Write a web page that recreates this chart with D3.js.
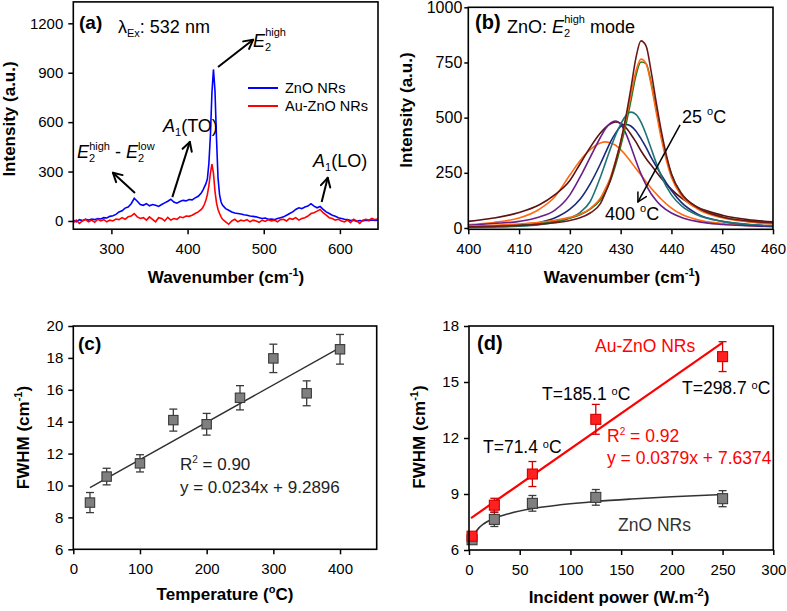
<!DOCTYPE html>
<html><head><meta charset="utf-8">
<script src="https://cdn.jsdelivr.net/npm/d3@7"></script>
<style>
body{margin:0;background:#fff;}
svg{display:block;font-family:"Liberation Sans",Arial,sans-serif;}
</style></head><body>
<script>
// ---------- Panel (a) data ----------
const wavenumber = [250,254,258,262,266,270,274,278,282,286,290,294,298,302,306,310,314,318,322,326,330,334,338,342,346,350,354,358,362,366,370,374,378,382,386,390,394,398,402,406,410,414,418,
420,422,424,426,428,430,432,434,436,438,440,442,444,
446,450,454,458,462,466,470,474,478,482,486,490,494,498,502,506,510,514,518,522,526,530,534,538,542,546,550,554,558,562,566,570,574,578,582,586,590,594,598,602,606,610,614,618,622,626,630,634,638,642,646,650];
const znoIntensity = [5,-5,8,2,10,5,12,8,15,12,20,18,28,32,40,55,62,78,85,105,138,120,100,95,105,92,100,95,88,100,110,120,132,115,108,118,125,122,130,128,140,150,170,
185,205,225,255,350,520,780,920,790,500,260,160,115,
95,75,65,55,48,45,42,38,35,30,28,25,20,15,18,10,12,8,15,20,25,35,45,55,70,80,75,85,90,105,90,80,88,70,55,45,35,28,20,15,10,8,3,5,-2,3,0,5,2,6,3,5];
const auZnoIntensity = [-10,5,-15,0,10,-5,5,-8,10,0,8,-5,5,0,12,8,20,10,25,30,45,25,15,20,5,25,10,-5,20,15,0,22,5,15,10,25,20,30,28,35,45,55,70,
82,100,125,160,215,290,345,290,180,110,70,45,25,
10,-5,-20,0,10,-5,5,0,8,-5,5,0,-8,5,-3,8,0,5,-5,8,10,0,15,10,20,5,15,20,30,45,50,60,70,50,35,20,15,5,10,0,-5,5,-10,10,0,-15,5,10,5,15,8,12];
const aXTicks = [300,400,500,600];
const aYTicks = [0,300,600,900,1200];
const aSeriesNames = ["ZnO NRs","Au-ZnO NRs"];

// ---------- Panel (b) data ----------
const e2Wavenumber = [400,405,410,414,417,420,422,424,426,427,428,429,430,431,432,433,434,435,436,437,438,440,442,445,450,455,460];
const e2CurveA = [5,8,12,17,24,34,46,68,110,160,220,300,390,500,630,770,848,825,710,570,440,245,155,95,50,32,24];
const e2CurveB = [8,12,18,26,35,48,62,88,135,178,230,305,390,490,600,710,765,745,650,525,405,230,145,88,46,28,18];
const e2CurveC = [4,7,12,20,30,45,60,85,128,165,215,285,370,465,575,690,752,745,660,540,420,245,155,95,50,30,20];
const e2CurveD = [2,4,8,15,25,45,70,120,230,295,360,420,470,508,525,515,480,425,360,295,235,150,100,60,30,17,10];
const e2CurveE = [3,6,12,25,45,85,130,200,290,340,390,430,460,470,462,440,405,365,320,280,240,170,115,65,30,15,8];
const e2CurveF = [12,20,30,50,80,150,230,320,410,450,475,485,470,430,370,305,245,195,155,125,100,68,48,30,16,10,6];
const e2CurveG = [30,45,70,105,150,215,290,365,430,455,472,480,475,455,425,390,350,315,285,255,225,175,135,95,58,38,28];
const e2CurveH = [15,25,45,85,140,240,305,355,385,390,385,375,355,330,300,270,240,210,180,155,130,90,62,38,20,12,8];
const e2Colors = ["#6d1818","#ff6a13","#1f7a1f","#1d7575","#1c2a7c","#6a1e8a","#5a1212","#ff6a13"];
const bXTicks = [400,410,420,430,440,450,460];
const bYTicks = [0,250,500,750,1000];

// ---------- Panel (c) data ----------
const temperature = [25,50,100,150,200,250,300,350,400];
const fwhmTemp = [8.93,10.56,11.39,14.1,13.84,15.5,17.97,15.78,18.54];
const fwhmTempErr = [0.63,0.52,0.54,0.69,0.68,0.76,0.89,0.78,0.93];
const fitTempX = [25,400];
const fitTempY = [9.87,18.65];
const cXTicks = [0,100,200,300,400];
const cYTicks = [6,8,10,12,14,16,18,20];

// ---------- Panel (d) data ----------
const power = [3,25,62.5,125,250];
const fwhmZnO = [6.55,7.64,8.5,8.82,8.75];
const fwhmZnOErr = [0.2,0.38,0.42,0.42,0.43];
const fwhmAuZnO = [6.74,8.4,10.07,13.0,16.36];
const fwhmAuZnOErr = [0.15,0.37,0.67,0.8,0.8];
const fitAuX = [2,250];
const fitAuY = [7.71,17.11];
const fitZnOX = [3,6,10,15,25,40,62.5,90,125,160,200,250];
const fitZnOY = [6.55,6.9,7.2,7.42,7.7,7.96,8.22,8.42,8.6,8.73,8.85,8.97];
const dXTicks = [0,50,100,150,200,250,300];
const dYTicks = [6,9,12,15,18];

// ---------- helpers ----------
const svg = d3.select("body").append("svg").attr("width",787).attr("height",611);
const FONT_TICK = 15;

function rich(g, x, y, parts, o = {}) {
  const t = g.append("text").attr("x", x).attr("y", y)
    .attr("font-size", o.size || 17)
    .attr("font-weight", o.weight || "normal")
    .attr("fill", o.fill || "#000")
    .attr("text-anchor", o.anchor || "start");
  if (o.rotate) t.attr("transform", `rotate(-90,${x},${y})`);
  let cur = 0;
  parts.forEach(p => {
    const sh = p.shift || 0;
    const s = t.append("tspan").text(p.t).attr("dy", cur - sh);
    cur = sh;
    if (p.size) s.attr("font-size", p.size);
    if (p.italic) s.attr("font-style", "italic");
    if (p.dx) s.attr("dx", p.dx);
  });
  return t;
}

function frame(g, x, y, xt, yt, o = {}) {
  const [x0, x1] = x.range(), [y0, y1] = y.range();
  const xa = g.append("g").attr("transform", `translate(0,${y0})`)
    .call(d3.axisBottom(x).tickValues(xt).tickSize(o.xs || 5).tickPadding(o.xp || 9).tickFormat(d3.format("d")));
  const ya = g.append("g").attr("transform", `translate(${x0},0)`)
    .call(d3.axisLeft(y).tickValues(yt).tickSize(o.ys || 5).tickPadding(o.yp || 5).tickFormat(d3.format("d")));
  [xa, ya].forEach(a => {
    a.select(".domain").remove();
    a.selectAll("line").attr("stroke", "#000").attr("stroke-width", 1.5);
    a.selectAll("text").attr("font-size", FONT_TICK).attr("fill", "#000").attr("font-family", null);
  });
  xa.selectAll("text").attr("font-size", o.xf || FONT_TICK);
  ya.selectAll("text").attr("font-size", o.yf || FONT_TICK);
  g.append("rect").attr("x", x0).attr("y", y1).attr("width", x1 - x0).attr("height", y0 - y1)
    .attr("fill", "none").attr("stroke", "#000").attr("stroke-width", 1.6);
}

function arrow(g, p0, p1, w, head) {
  g.append("line").attr("x1", p0[0]).attr("y1", p0[1]).attr("x2", p1[0]).attr("y2", p1[1])
    .attr("stroke", "#000").attr("stroke-width", w);
  const ang = Math.atan2(p1[1] - p0[1], p1[0] - p0[0]);
  [-0.5, 0.5].forEach(da => {
    const a = ang + Math.PI + da;
    g.append("line").attr("x1", p1[0]).attr("y1", p1[1])
      .attr("x2", p1[0] + head * Math.cos(a)).attr("y2", p1[1] + head * Math.sin(a))
      .attr("stroke", "#000").attr("stroke-width", w).attr("stroke-linecap", "round");
  });
}

function clip(id, x, y) {
  const [x0, x1] = x.range(), [y0, y1] = y.range();
  svg.append("clipPath").attr("id", id).append("rect")
    .attr("x", x0).attr("y", y1).attr("width", x1 - x0).attr("height", y0 - y1);
}

// ================= Panel (a) =================
{
  const g = svg.append("g");
  const x = d3.scaleLinear().domain([250, 650]).range([73.3, 378]);
  const y = d3.scaleLinear().domain([-50, 1330]).range([229.2, 1.9]);
  clip("clipA", x, y);
  const line = d3.line().x((d, i) => x(wavenumber[i])).y(d => y(d));
  const lg = g.append("g").attr("clip-path", "url(#clipA)");
  lg.append("path").attr("d", line(znoIntensity)).attr("fill", "none").attr("stroke", "#0000ff").attr("stroke-width", 1.6);
  lg.append("path").attr("d", line(auZnoIntensity)).attr("fill", "none").attr("stroke", "#ff0000").attr("stroke-width", 1.6);
  frame(g, x, y, aXTicks, aYTicks);

  // legend
  const legColors = ["#0000ff", "#ff0000"];
  aSeriesNames.forEach((n, i) => {
    g.append("line").attr("x1", 248).attr("x2", 278).attr("y1", 88 + i * 18).attr("y2", 88 + i * 18)
      .attr("stroke", legColors[i]).attr("stroke-width", 2);
    g.append("text").attr("x", 285).attr("y", 93 + i * 18).attr("font-size", 14.5).text(n);
  });

  // annotations
  rich(g, 79, 29, [{t: "(a)"}], {size: 19, weight: "bold"});
  rich(g, 118, 33, [{t: "λ"}, {t: "Ex", size: 11, shift: -4}, {t: ": 532 nm"}], {size: 18});
  rich(g, 253, 47, [{t: "E", italic: true}, {t: "2", size: 11, shift: -4}, {t: "high", size: 11, shift: 11, dx: -6}], {size: 18});
  rich(g, 77, 158, [{t: "E", italic: true}, {t: "2", size: 11, shift: -4}, {t: "high", size: 11, shift: 8, dx: -6},
    {t: " - "}, {t: "E", italic: true}, {t: "2", size: 11, shift: -4}, {t: "low", size: 11, shift: 8, dx: -6}], {size: 18});
  rich(g, 163, 132, [{t: "A", italic: true}, {t: "1", size: 11, shift: -4}, {t: "(TO)"}], {size: 18});
  rich(g, 313, 167, [{t: "A", italic: true}, {t: "1", size: 11, shift: -4}, {t: "(LO)"}], {size: 18});
  const P = (a, b) => [x(a), y(b)];
  arrow(g, P(440, 935), P(486, 1100), 2, 10);
  arrow(g, P(331, 170), P(302, 293), 2, 10);
  arrow(g, P(380, 145), P(403, 480), 2, 10);
  arrow(g, P(576, 115), P(584, 262), 2, 10);

  rich(g, 226, 283, [{t: "Wavenumber (cm"}, {t: "-1", size: 11, shift: 7}, {t: ")"}], {size: 17, weight: "bold", anchor: "middle"});
  rich(g, 15, 119, [{t: "Intensity (a.u.)"}], {size: 17, weight: "bold", anchor: "middle", rotate: true});
}

// ================= Panel (b) =================
{
  const g = svg.append("g");
  const x = d3.scaleLinear().domain([400, 460]).range([468.3, 773]);
  const y = d3.scaleLinear().domain([-6, 1000]).range([229.3, 7.3]);
  clip("clipB", x, y);
  const line = d3.line().x((d, i) => x(e2Wavenumber[i])).y(d => y(d)).curve(d3.curveMonotoneX);
  const lg = g.append("g").attr("clip-path", "url(#clipB)");
  const curves = [e2CurveH, e2CurveG, e2CurveF, e2CurveE, e2CurveD, e2CurveC, e2CurveB, e2CurveA];
  const cols = [e2Colors[7], e2Colors[6], e2Colors[5], e2Colors[4], e2Colors[3], e2Colors[2], e2Colors[1], e2Colors[0]];
  curves.forEach((c, i) => {
    lg.append("path").attr("d", line(c)).attr("fill", "none").attr("stroke", cols[i]).attr("stroke-width", 1.6);
  });
  frame(g, x, y, bXTicks, bYTicks, {ys: 4, yp: 2, yf: 16});

  rich(g, 475, 29, [{t: "(b)"}], {size: 20, weight: "bold"});
  rich(g, 507, 33, [{t: "ZnO: "}, {t: "E", italic: true}, {t: "2", size: 11, shift: -4}, {t: "high", size: 11, shift: 10, dx: -6}, {t: " mode", shift: 0}], {size: 18});
  rich(g, 682, 123, [{t: "25 "}, {t: "o", size: 11, shift: 8}, {t: "C"}], {size: 18});
  rich(g, 605, 220, [{t: "400 "}, {t: "o", size: 11, shift: 8}, {t: "C"}], {size: 18});
  arrow(g, [x(441.7), y(467)], [x(433.4), y(118)], 1.5, 10);

  rich(g, 622, 283, [{t: "Wavenumber (cm"}, {t: "-1", size: 11, shift: 7}, {t: ")"}], {size: 17, weight: "bold", anchor: "middle"});
  rich(g, 412, 110, [{t: "Intensity (a.u.)"}], {size: 17, weight: "bold", anchor: "middle", rotate: true});
}

// ================= Panel (c) =================
{
  const g = svg.append("g");
  const x = d3.scaleLinear().domain([0, 455]).range([73.3, 376.7]);
  const y = d3.scaleLinear().domain([6, 20]).range([549.3, 326]);
  g.append("path").attr("d", d3.line().x((d, i) => x(fitTempX[i])).y(d => y(d))(fitTempY))
    .attr("stroke", "#303030").attr("stroke-width", 1.4).attr("fill", "none");
  temperature.forEach((t, i) => {
    const cx = x(t), v = fwhmTemp[i], e = fwhmTempErr[i];
    g.append("line").attr("x1", cx).attr("x2", cx).attr("y1", y(v + e)).attr("y2", y(v - e)).attr("stroke", "#3a3a3a").attr("stroke-width", 1.3);
    [v + e, v - e].forEach(b => g.append("line").attr("x1", cx - 4).attr("x2", cx + 4).attr("y1", y(b)).attr("y2", y(b)).attr("stroke", "#3a3a3a").attr("stroke-width", 1.3));
    g.append("rect").attr("x", cx - 4.7).attr("y", y(v) - 4.7).attr("width", 9.4).attr("height", 9.4)
      .attr("fill", "#7f7f7f").attr("stroke", "#3a3a3a").attr("stroke-width", 1.1);
  });
  frame(g, x, y, cXTicks, cYTicks);
  rich(g, 78, 350, [{t: "(c)"}], {size: 19, weight: "bold"});
  rich(g, 180, 470, [{t: "R"}, {t: "2", size: 10, shift: 7}, {t: " = 0.90"}], {size: 17, fill: "#222"});
  rich(g, 180, 493, [{t: "y = 0.0234x + 9.2896"}], {size: 17, fill: "#222"});
  rich(g, 225, 600, [{t: "Temperature ("}, {t: "o", size: 11, shift: 7}, {t: "C)"}], {size: 17, weight: "bold", anchor: "middle"});
  rich(g, 29, 437.5, [{t: "FWHM (cm"}, {t: "-1", size: 11, shift: 7}, {t: ")"}], {size: 17, weight: "bold", anchor: "middle", rotate: true});
}

// ================= Panel (d) =================
{
  const g = svg.append("g");
  const x = d3.scaleLinear().domain([0, 300]).range([469, 773.3]);
  const y = d3.scaleLinear().domain([6, 18]).range([550, 326]);
  g.append("path").attr("d", d3.line().x((d, i) => x(fitZnOX[i])).y(d => y(d)).curve(d3.curveMonotoneX)(fitZnOY))
    .attr("stroke", "#333").attr("stroke-width", 1.6).attr("fill", "none");
  function pts(vals, errs, fill, stroke) {
    power.forEach((p, i) => {
      const cx = x(p), v = vals[i], e = errs[i];
      g.append("line").attr("x1", cx).attr("x2", cx).attr("y1", y(v + e)).attr("y2", y(v - e)).attr("stroke", stroke).attr("stroke-width", 1.3);
      [v + e, v - e].forEach(b => g.append("line").attr("x1", cx - 4).attr("x2", cx + 4).attr("y1", y(b)).attr("y2", y(b)).attr("stroke", stroke).attr("stroke-width", 1.3));
      g.append("rect").attr("x", cx - 5).attr("y", y(v) - 5).attr("width", 10).attr("height", 10)
        .attr("fill", fill).attr("stroke", stroke).attr("stroke-width", 1.1);
    });
  }
  pts(fwhmZnO, fwhmZnOErr, "#7f7f7f", "#3a3a3a");
  g.append("path").attr("d", d3.line().x((d, i) => x(fitAuX[i])).y(d => y(d))(fitAuY))
    .attr("stroke", "#ff0000").attr("stroke-width", 2.2).attr("fill", "none");
  pts(fwhmAuZnO, fwhmAuZnOErr, "#ff2020", "#d00000");
  frame(g, x, y, dXTicks, dYTicks);

  rich(g, 477, 350, [{t: "(d)"}], {size: 20, weight: "bold"});
  rich(g, 595, 352, [{t: "Au-ZnO NRs"}], {size: 17.5, fill: "#ff0000"});
  rich(g, 542, 400, [{t: "T=185.1 "}, {t: "o", size: 11, shift: 5}, {t: "C"}], {size: 17.5});
  rich(g, 682, 394, [{t: "T=298.7 "}, {t: "o", size: 11, shift: 5}, {t: "C"}], {size: 17.5});
  rich(g, 483, 453, [{t: "T=71.4 "}, {t: "o", size: 11, shift: 5}, {t: "C"}], {size: 17.5});
  rich(g, 607, 442, [{t: "R"}, {t: "2", size: 10, shift: 7}, {t: " = 0.92"}], {size: 17.5, fill: "#ff0000"});
  rich(g, 607, 464, [{t: "y = 0.0379x + 7.6374"}], {size: 17.5, fill: "#ff0000"});
  rich(g, 618, 530.5, [{t: "ZnO NRs"}], {size: 17.5, fill: "#333"});
  rich(g, 619, 603, [{t: "Incident power (W.m"}, {t: "-2", size: 11, shift: 7}, {t: ")"}], {size: 17, weight: "bold", anchor: "middle"});
  rich(g, 425, 437, [{t: "FWHM (cm"}, {t: "-1", size: 11, shift: 7}, {t: ")"}], {size: 17, weight: "bold", anchor: "middle", rotate: true});
}
</script>
</body></html>
